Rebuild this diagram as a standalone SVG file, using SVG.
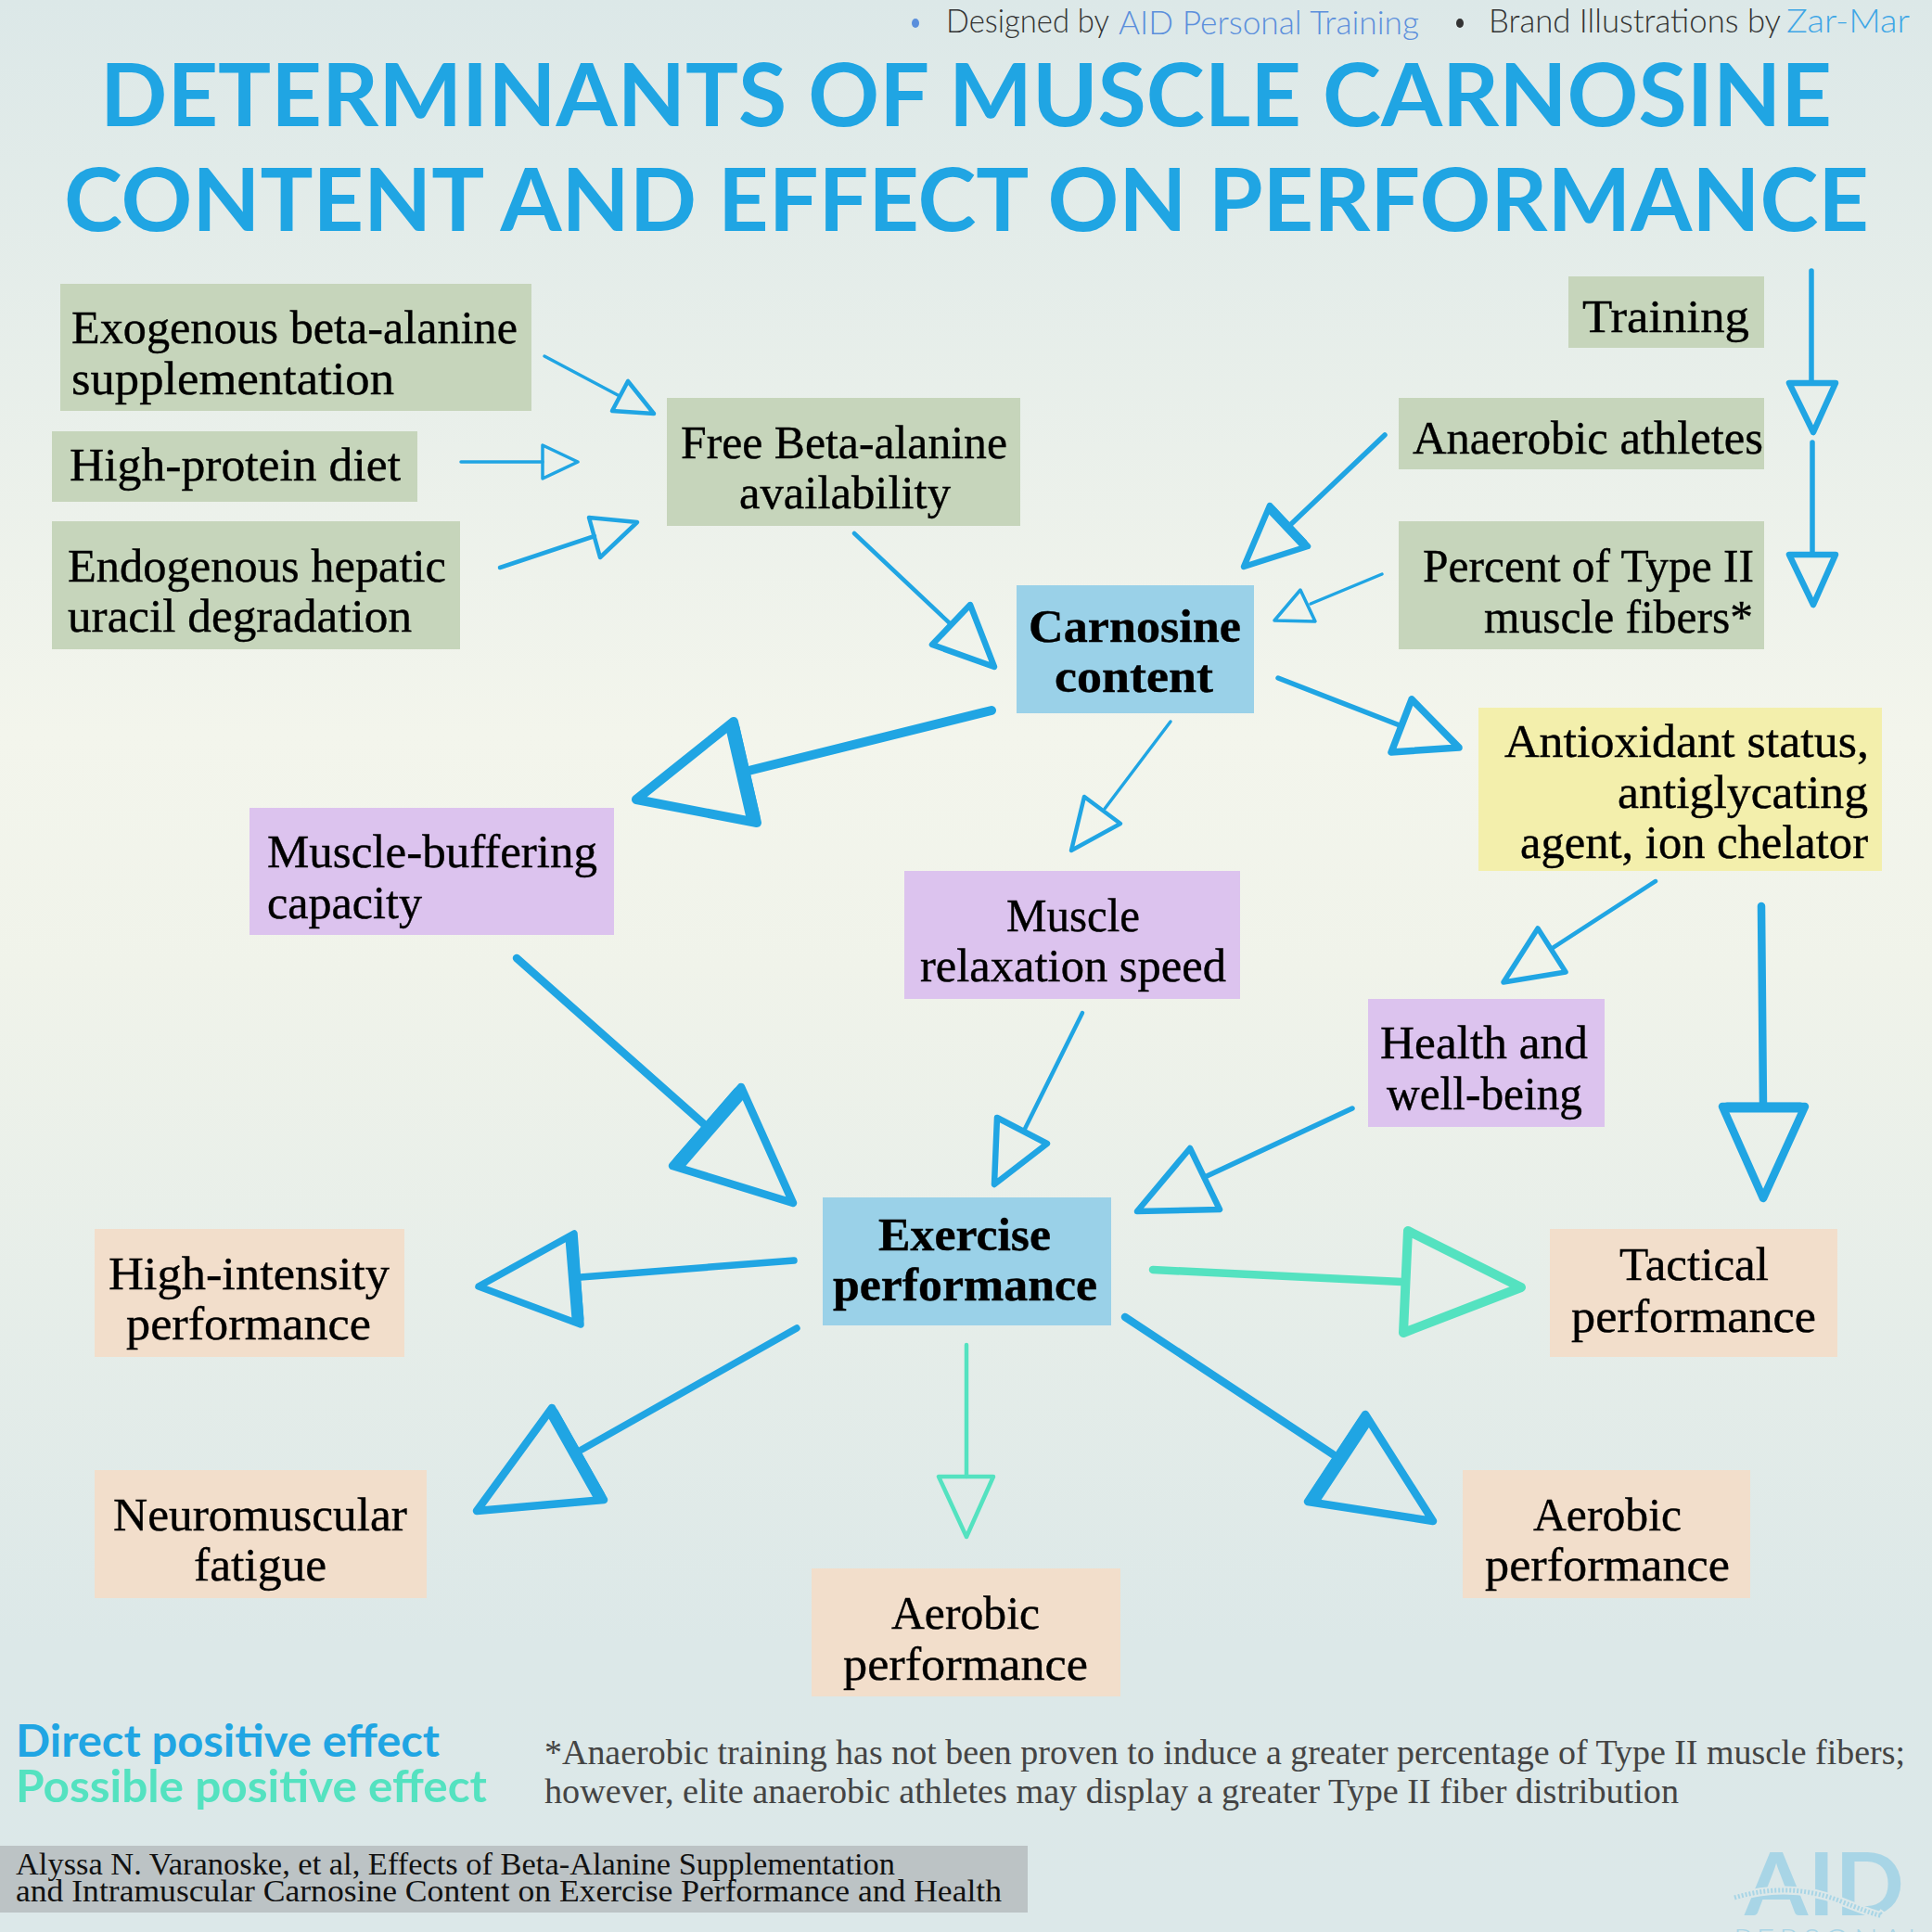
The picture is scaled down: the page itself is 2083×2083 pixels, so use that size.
<svg xmlns="http://www.w3.org/2000/svg" width="2083" height="2083" viewBox="0 0 2083 2083">
<style>
.n{font-family:"Liberation Serif",serif;font-size:50px;fill:#000;stroke:#000;stroke-width:.4px}
.b{font-weight:700}
.t{font-family:"Lato","Liberation Sans",sans-serif;font-size:93px;font-weight:700;fill:#20a5e3}
.h{font-family:"Lato","Liberation Sans",sans-serif;font-size:36px;font-weight:300;fill:#333}
.lg{font-family:"Lato","Liberation Sans",sans-serif;font-size:47px;font-weight:700}
.f{font-family:"Liberation Serif",serif;font-size:38px;fill:#444}
.c{font-family:"Liberation Serif",serif;font-size:33px;fill:#111}
.gr{fill:#c6d5bb}.bl{fill:#9ad1e8}.pu{fill:#dcc3ee}.ye{fill:#f3efac}.pe{fill:#f2decb}
#connectors line,#connectors polygon{fill:none;stroke:#20a5e3;stroke-linejoin:round;stroke-linecap:round}
#connectors .mint{stroke:#54e2c0}
.s3{stroke-width:3.5px}.s4{stroke-width:4.5px}.s5{stroke-width:5.5px}.s6{stroke-width:6.5px}.s7{stroke-width:7.5px}.s8{stroke-width:8.5px}.s9{stroke-width:10px}.s11{stroke-width:11px}.s13{stroke-width:13px}.s15{stroke-width:15px}
</style>
<defs>
<linearGradient id="bg" x1="0" y1="0" x2="0" y2="1">
<stop offset="0" stop-color="#dce8e8"/>
<stop offset="0.38" stop-color="#f3f5ec"/>
<stop offset="0.5" stop-color="#f0f3ea"/>
<stop offset="0.85" stop-color="#dce8e8"/>
<stop offset="1" stop-color="#dce8e9"/>
</linearGradient>
</defs>
<rect id="background" width="2083" height="2083" fill="url(#bg)"/>
<g id="header">
<ellipse cx="987" cy="25" rx="4" ry="5" fill="#5b8fdc"/>
<text class="h" x="1020" y="35" textLength="176" lengthAdjust="spacingAndGlyphs">Designed by</text>
<text class="h" x="1206" y="37" textLength="324" lengthAdjust="spacingAndGlyphs" style="fill:#5b8fdc">AID Personal Training</text>
<ellipse cx="1574" cy="25" rx="4" ry="5" fill="#333"/>
<text class="h" x="1605" y="35" textLength="315" lengthAdjust="spacingAndGlyphs">Brand Illustrations by</text>
<text class="h" x="1926" y="35" textLength="133" lengthAdjust="spacingAndGlyphs" style="fill:#3ea6e6">Zar-Mar</text>
</g>
<g id="title">
<text class="t" x="108" y="136" textLength="1867" lengthAdjust="spacingAndGlyphs">DETERMINANTS OF MUSCLE CARNOSINE</text>
<text class="t" x="69" y="249" textLength="1946" lengthAdjust="spacingAndGlyphs">CONTENT AND EFFECT ON PERFORMANCE</text>
</g>
<g id="node-exogenous"><rect class="gr" x="65" y="306" width="508" height="137"/>
<text class="n" x="77" y="370" textLength="481" lengthAdjust="spacingAndGlyphs">Exogenous beta-alanine</text>
<text class="n" x="77" y="425" textLength="348" lengthAdjust="spacingAndGlyphs">supplementation</text></g>
<g id="node-protein"><rect class="gr" x="56" y="465" width="394" height="76"/>
<text class="n" x="75" y="518" textLength="357" lengthAdjust="spacingAndGlyphs">High-protein diet</text></g>
<g id="node-endogenous"><rect class="gr" x="56" y="562" width="440" height="138"/>
<text class="n" x="73" y="627" textLength="408" lengthAdjust="spacingAndGlyphs">Endogenous hepatic</text>
<text class="n" x="73" y="681" textLength="371" lengthAdjust="spacingAndGlyphs">uracil degradation</text></g>
<g id="node-free"><rect class="gr" x="719" y="429" width="381" height="138"/>
<text class="n" x="734" y="494" textLength="352" lengthAdjust="spacingAndGlyphs">Free Beta-alanine</text>
<text class="n" x="797" y="548" textLength="228" lengthAdjust="spacingAndGlyphs">availability</text></g>
<g id="node-training"><rect class="gr" x="1691" y="298" width="211" height="77"/>
<text class="n" x="1706" y="358" textLength="180" lengthAdjust="spacingAndGlyphs">Training</text></g>
<g id="node-anaerobic"><rect class="gr" x="1508" y="429" width="394" height="77"/>
<text class="n" x="1523" y="489" textLength="378" lengthAdjust="spacingAndGlyphs">Anaerobic athletes</text></g>
<g id="node-type2"><rect class="gr" x="1508" y="562" width="394" height="138"/>
<text class="n" x="1534" y="627" textLength="357" lengthAdjust="spacingAndGlyphs">Percent of Type II</text>
<text class="n" x="1600" y="682" textLength="290" lengthAdjust="spacingAndGlyphs">muscle fibers*</text></g>
<g id="node-carnosine"><rect class="bl" x="1096" y="631" width="256" height="138"/>
<text class="n b" x="1109" y="692" textLength="229" lengthAdjust="spacingAndGlyphs">Carnosine</text>
<text class="n b" x="1137" y="746" textLength="171" lengthAdjust="spacingAndGlyphs">content</text></g>
<g id="node-antioxidant"><rect class="ye" x="1594" y="763" width="435" height="176"/>
<text class="n" x="1622" y="816" textLength="393" lengthAdjust="spacingAndGlyphs">Antioxidant status,</text>
<text class="n" x="1744" y="871" textLength="270" lengthAdjust="spacingAndGlyphs">antiglycating</text>
<text class="n" x="1639" y="925" textLength="375" lengthAdjust="spacingAndGlyphs">agent, ion chelator</text></g>
<g id="node-buffering"><rect class="pu" x="269" y="871" width="393" height="137"/>
<text class="n" x="288" y="935" textLength="356" lengthAdjust="spacingAndGlyphs">Muscle-buffering</text>
<text class="n" x="288" y="990" textLength="167" lengthAdjust="spacingAndGlyphs">capacity</text></g>
<g id="node-relaxation"><rect class="pu" x="975" y="939" width="362" height="138"/>
<text class="n" x="1085" y="1004" textLength="144" lengthAdjust="spacingAndGlyphs">Muscle</text>
<text class="n" x="992" y="1058" textLength="330" lengthAdjust="spacingAndGlyphs">relaxation speed</text></g>
<g id="node-health"><rect class="pu" x="1475" y="1077" width="255" height="138"/>
<text class="n" x="1488" y="1141" textLength="224" lengthAdjust="spacingAndGlyphs">Health and</text>
<text class="n" x="1495" y="1196" textLength="211" lengthAdjust="spacingAndGlyphs">well-being</text></g>
<g id="node-exercise"><rect class="bl" x="887" y="1291" width="311" height="138"/>
<text class="n b" x="947" y="1348" textLength="186" lengthAdjust="spacingAndGlyphs">Exercise</text>
<text class="n b" x="898" y="1402" textLength="285" lengthAdjust="spacingAndGlyphs">performance</text></g>
<g id="node-highintensity"><rect class="pe" x="102" y="1325" width="334" height="138"/>
<text class="n" x="117" y="1390" textLength="303" lengthAdjust="spacingAndGlyphs">High-intensity</text>
<text class="n" x="136" y="1444" textLength="264" lengthAdjust="spacingAndGlyphs">performance</text></g>
<g id="node-tactical"><rect class="pe" x="1671" y="1325" width="310" height="138"/>
<text class="n" x="1746" y="1380" textLength="161" lengthAdjust="spacingAndGlyphs">Tactical</text>
<text class="n" x="1694" y="1436" textLength="264" lengthAdjust="spacingAndGlyphs">performance</text></g>
<g id="node-neuromuscular"><rect class="pe" x="102" y="1585" width="358" height="138"/>
<text class="n" x="122" y="1650" textLength="317" lengthAdjust="spacingAndGlyphs">Neuromuscular</text>
<text class="n" x="209" y="1704" textLength="143" lengthAdjust="spacingAndGlyphs">fatigue</text></g>
<g id="node-aerobic-right"><rect class="pe" x="1577" y="1585" width="310" height="138"/>
<text class="n" x="1653" y="1650" textLength="160" lengthAdjust="spacingAndGlyphs">Aerobic</text>
<text class="n" x="1601" y="1704" textLength="264" lengthAdjust="spacingAndGlyphs">performance</text></g>
<g id="node-aerobic-center"><rect class="pe" x="875" y="1691" width="333" height="138"/>
<text class="n" x="961" y="1756" textLength="160" lengthAdjust="spacingAndGlyphs">Aerobic</text>
<text class="n" x="909" y="1811" textLength="264" lengthAdjust="spacingAndGlyphs">performance</text></g>
<g id="connectors">
<line class="s3" x1="587" y1="384" x2="668" y2="427"/><polygon class="s4" points="677,411 660,443 705,446"/>
<line class="s3" x1="497" y1="498" x2="585" y2="498"/><polygon class="s3" points="585,480 585,516 623,498"/>
<line class="s4" x1="539" y1="612" x2="641" y2="578"/><polygon class="s4" points="635,558 647,601 687,563"/>
<line class="s4" x1="921" y1="575" x2="1025" y2="673"/><polygon class="s6" points="1046,652 1005,695 1072,719"/>
<line class="s5" x1="1953" y1="292" x2="1953" y2="412"/><polygon class="s6" points="1929,413 1979,413 1955,466"/>
<line class="s5" x1="1954" y1="477" x2="1954" y2="597"/><polygon class="s6" points="1929,598 1979,598 1955,652"/>
<line class="s5" x1="1493" y1="469" x2="1391" y2="566"/><polygon class="s6" points="1369,545 1410,589 1341,611"/><line class="s9" x1="1371" y1="550" x2="1405" y2="586"/>
<line class="s3" x1="1490" y1="619" x2="1413" y2="651"/><polygon class="s3" points="1402,636 1418,670 1374,669"/>
<line class="s5" x1="1378" y1="731" x2="1509" y2="782"/><polygon class="s7" points="1522,754 1500,811 1573,806"/>
<line class="s9" x1="1069" y1="766" x2="807" y2="831"/><polygon class="s9" points="791,778 816,887 686,862"/><line class="s15" x1="790" y1="785" x2="812" y2="881"/>
<line class="s3" x1="1262" y1="778" x2="1191" y2="872"/><polygon class="s4" points="1169,859 1208,888 1155,917"/>
<line class="s4" x1="1167" y1="1092" x2="1104" y2="1219"/><polygon class="s6" points="1075,1205 1129,1233 1072,1277"/>
<line class="s8" x1="557" y1="1033" x2="759" y2="1212"/><polygon class="s8" points="799,1172 725,1257 855,1297"/><line class="s15" x1="797" y1="1179" x2="732" y2="1254"/>
<line class="s7" x1="856" y1="1359" x2="626" y2="1377"/><polygon class="s7" points="619,1330 626,1428 516,1387"/><line class="s13" x1="616" y1="1336" x2="623" y2="1422"/>
<line class="s7" x1="859" y1="1432" x2="627" y2="1563"/><polygon class="s8" points="595,1518 651,1617 514,1629"/><line class="s13" x1="596" y1="1524" x2="646" y2="1613"/>
<line class="s4 mint" x1="1042" y1="1450" x2="1042" y2="1592"/><polygon class="s4 mint" points="1012,1592 1071,1592 1042,1657"/>
<line class="s4" x1="1785" y1="950" x2="1674" y2="1022"/><polygon class="s5" points="1658,1001 1688,1048 1621,1059"/>
<line class="s8" x1="1899" y1="977" x2="1901" y2="1193"/><polygon class="s8" points="1857,1193 1946,1193 1901,1292"/><line class="s11" x1="1862" y1="1194" x2="1941" y2="1194"/>
<line class="s5" x1="1458" y1="1195" x2="1299" y2="1269"/><polygon class="s6" points="1283,1238 1315,1304 1226,1306"/>
<line class="s8 mint" x1="1243" y1="1369" x2="1511" y2="1382"/><polygon class="s9 mint" points="1518,1327 1513,1437 1640,1388"/>
<line class="s8" x1="1213" y1="1420" x2="1437" y2="1568"/><polygon class="s8" points="1472,1525 1410,1619 1545,1640"/><line class="s15" x1="1471" y1="1533" x2="1417" y2="1615"/>
</g>
<g id="legend">
<text class="lg" x="17" y="1894" textLength="457" lengthAdjust="spacingAndGlyphs" style="fill:#20a5e3">Direct positive effect</text>
<text class="lg" x="17" y="1943" textLength="508" lengthAdjust="spacingAndGlyphs" style="fill:#54e2c0">Possible positive effect</text>
</g>
<g id="footnote">
<text class="f" x="587" y="1902" textLength="1467" lengthAdjust="spacingAndGlyphs">*Anaerobic training has not been proven to induce a greater percentage of Type II muscle fibers;</text>
<text class="f" x="587" y="1944" textLength="1223" lengthAdjust="spacingAndGlyphs">however, elite anaerobic athletes may display a greater Type II fiber distribution</text>
</g>
<g id="citation">
<rect x="0" y="1990" width="1108" height="72" fill="#bcc3c5"/>
<text class="c" x="17" y="2021" textLength="948" lengthAdjust="spacingAndGlyphs">Alyssa N. Varanoske, et al, Effects of Beta-Alanine Supplementation</text>
<text class="c" x="17" y="2050" textLength="1063" lengthAdjust="spacingAndGlyphs">and Intramuscular Carnosine Content on Exercise Performance and Health</text>
</g>
<g id="logo">
<text x="1881" y="2065" textLength="172" lengthAdjust="spacingAndGlyphs" style="font-family:Lato,sans-serif;font-size:94px;font-weight:700;fill:#a8d5e6">AID</text>
<path d="M1870 2046 Q1930 2028 1985 2050 T2025 2062" fill="none" stroke="#dce8e9" stroke-width="9"/>
<path d="M1870 2046 Q1930 2028 1985 2050 T2025 2062" fill="none" stroke="#a8d5e6" stroke-width="5" stroke-dasharray="2 2"/>
<text x="1869" y="2104" textLength="205" lengthAdjust="spacing" style="font-family:Lato,sans-serif;font-size:34px;font-weight:300;fill:#a8d5e6">PERSONAL</text>
</g>
</svg>
